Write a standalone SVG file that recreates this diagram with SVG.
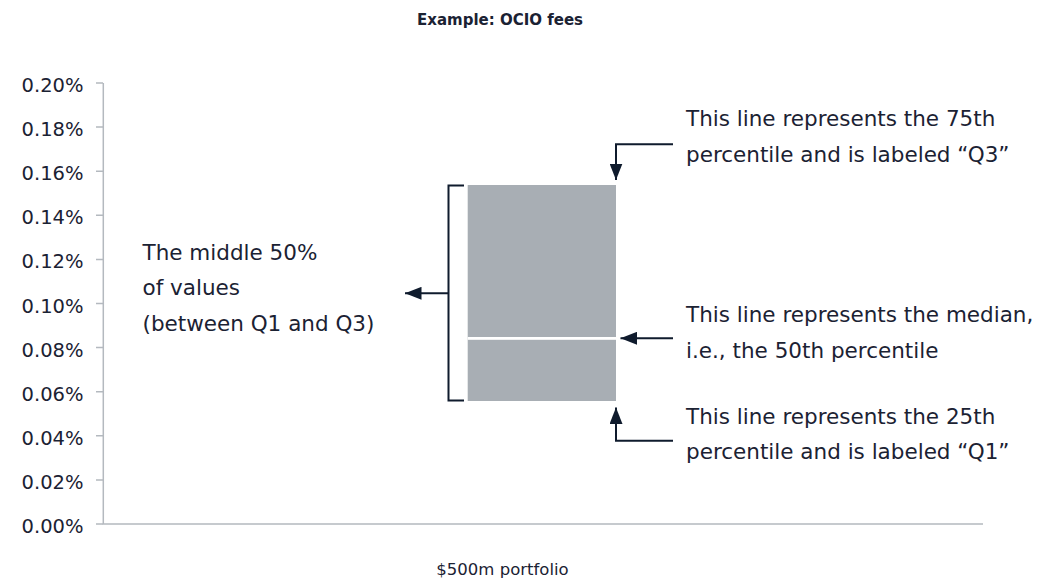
<svg xmlns="http://www.w3.org/2000/svg" width="1042" height="582" viewBox="0 0 1042 582">
  <style>
    .t { font-family: "DejaVu Sans", "Liberation Sans", sans-serif; fill: #1b2233; }
    .ax { font-size: 19.5px; text-anchor: end; }
    .note { font-size: 21.5px; }
    .title { font-size: 15px; font-weight: bold; text-anchor: middle; }
    .xl { font-size: 16.5px; text-anchor: middle; }
    .axis { stroke: #b4b9bf; stroke-width: 1.5; fill: none; }
    .conn { stroke: #0f1b2d; stroke-width: 2; fill: none; }
  </style>
  <defs>
    <marker id="arrow" markerUnits="userSpaceOnUse" markerWidth="17" markerHeight="13" refX="16.5" refY="6.5" orient="auto">
      <path d="M0,0 L16.5,6.5 L0,13 Z" fill="#0f1b2d"/>
    </marker>
  </defs>

  <rect width="1042" height="582" fill="#ffffff"/>

  <text class="t title" x="500" y="25">Example: OCIO fees</text>

  <!-- value axis -->
  <g id="axis">
    <path class="axis" d="M103.3,83 V524 H983"/>
    <path class="axis" d="M96,83 H103 M96,127.1 H103 M96,171.2 H103 M96,215.3 H103 M96,259.4 H103 M96,303.5 H103 M96,347.6 H103 M96,391.7 H103 M96,435.8 H103 M96,479.9 H103 M96,524 H103"/>
    <text class="t ax" x="83.5" y="92">0.20%</text>
    <text class="t ax" x="83.5" y="136.1">0.18%</text>
    <text class="t ax" x="83.5" y="180.2">0.16%</text>
    <text class="t ax" x="83.5" y="224.3">0.14%</text>
    <text class="t ax" x="83.5" y="268.4">0.12%</text>
    <text class="t ax" x="83.5" y="312.5">0.10%</text>
    <text class="t ax" x="83.5" y="356.6">0.08%</text>
    <text class="t ax" x="83.5" y="400.7">0.06%</text>
    <text class="t ax" x="83.5" y="444.8">0.04%</text>
    <text class="t ax" x="83.5" y="488.9">0.02%</text>
    <text class="t ax" x="83.5" y="533">0.00%</text>
    <text class="t xl" x="502.5" y="575">$500m portfolio</text>
  </g>

  <!-- interquartile box with median line -->
  <g id="box">
    <rect x="467.7" y="185" width="148.3" height="216" fill="#a8aeb4"/>
    <rect x="467.7" y="337" width="148.3" height="2.8" fill="#ffffff"/>
  </g>

  <g id="connectors">
    <path class="conn" d="M464,185.5 H448.5 V400.5 H464"/>
    <path class="conn" d="M448.5,293.3 H405" marker-end="url(#arrow)"/>
    <path class="conn" d="M673,144.3 H616 V180" marker-end="url(#arrow)"/>
    <path class="conn" d="M673,338.3 H620.5" marker-end="url(#arrow)"/>
    <path class="conn" d="M673,440.7 H616 V407.5" marker-end="url(#arrow)"/>
  </g>

  <g id="label-middle">
    <text class="t note" x="142.5" y="259.5">The middle 50%</text>
    <text class="t note" x="142.5" y="295">of values</text>
    <text class="t note" x="142.5" y="330.5">(between Q1 and Q3)</text>
  </g>
  <g id="label-q3">
    <text class="t note" x="686" y="125.5">This line represents the 75th</text>
    <text class="t note" x="686" y="161.5">percentile and is labeled “Q3”</text>
  </g>
  <g id="label-median">
    <text class="t note" x="686" y="322">This line represents the median,</text>
    <text class="t note" x="686" y="357.5">i.e., the 50th percentile</text>
  </g>
  <g id="label-q1">
    <text class="t note" x="686" y="423.5">This line represents the 25th</text>
    <text class="t note" x="686" y="459">percentile and is labeled “Q1”</text>
  </g>
</svg>
